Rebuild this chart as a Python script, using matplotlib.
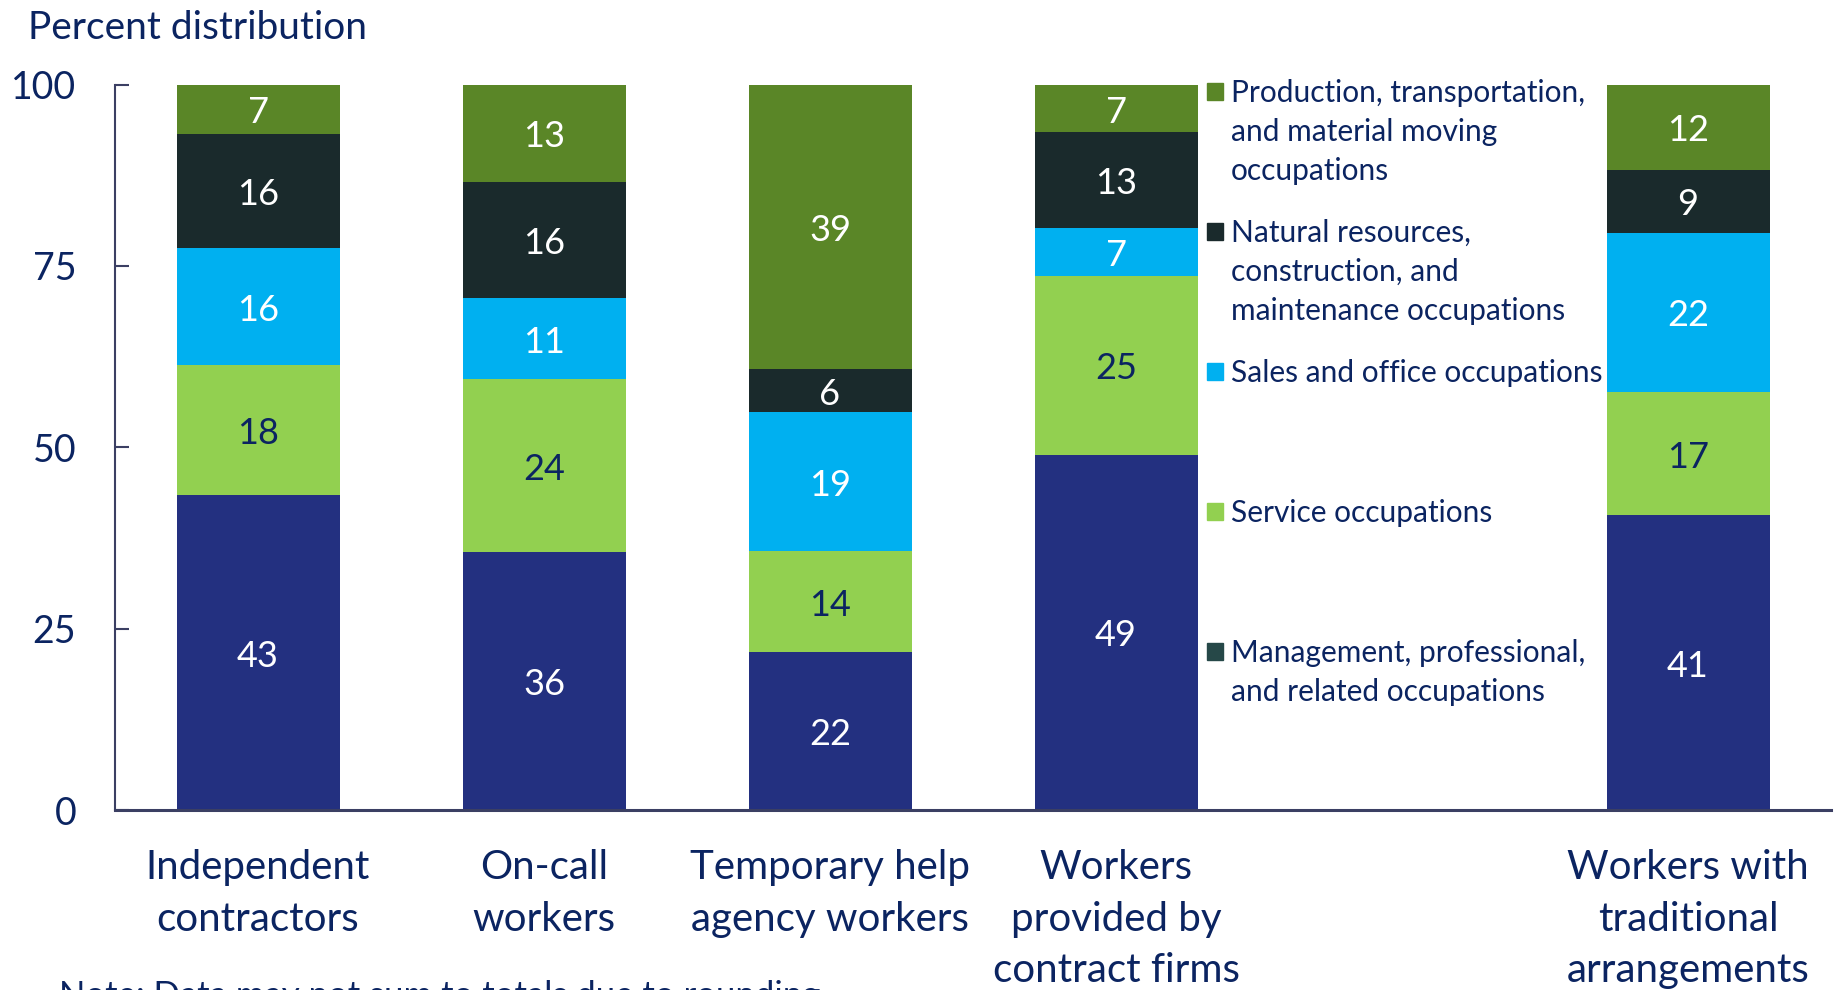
import matplotlib.pyplot as plt
from matplotlib.patches import Rectangle

plt.rcParams['font.family'] = ['Lato', 'DejaVu Sans']

categories = ["Independent\ncontractors", "On-call\nworkers", "Temporary help\nagency workers",
              "Workers\nprovided by\ncontract firms", "Workers with\ntraditional\narrangements"]
x_pos = [0, 1, 2, 3, 5]

series = ["Management, professional,\nand related occupations",
          "Service occupations",
          "Sales and office occupations",
          "Natural resources,\nconstruction, and\nmaintenance occupations",
          "Production, transportation,\nand material moving\noccupations"]
management = [43.4, 35.6, 21.8, 49.0, 40.6]
service = [17.9, 23.8, 13.9, 24.6, 17.0]
sales = [16.2, 11.2, 19.1, 6.6, 22.0]
natural = [15.7, 16.0, 6.0, 13.2, 8.6]
production = [6.8, 13.4, 39.2, 6.6, 11.8]

values = [management, service, sales, natural, production]
colors = ['#233080', '#92d050', '#00b0f0', '#1a2a2c', '#5a8627']
legend_colors = ['#264848', '#92d050', '#00b0f0', '#1a2a2c', '#5a8627']
label_colors = ['white', '#0b2461', 'white', 'white', 'white']
navy = '#0b2461'
axis_col = '#3b3f63'

fig = plt.figure(figsize=(18.41, 9.9), dpi=100)
ax = fig.add_axes([0.0625, 0.1818, 0.9321, 0.7328])

bottoms = [0.0] * len(x_pos)
for vals, col, lcol in zip(values, colors, label_colors):
    ax.bar(x_pos, vals, width=0.57, bottom=bottoms, color=col, edgecolor='none', zorder=2)
    for x, b, v in zip(x_pos, bottoms, vals):
        ax.text(x, b + v / 2 - 0.5, f"{int(v + 0.5)}", ha='center', va='center',
                fontsize=26, color=lcol, zorder=3)
    bottoms = [b + v for b, v in zip(bottoms, vals)]

ax.set_xlim(-0.5, 5.5)
ax.set_ylim(0, 100)
ax.set_yticks([0, 25, 50, 75, 100])
ax.set_xticks(x_pos)
ax.set_xticklabels(categories, fontsize=29, color=navy, linespacing=1.49)
ax.tick_params(axis='y', direction='in', length=10, width=1.5, color=axis_col,
               labelsize=27, labelcolor=navy, pad=28)
ax.tick_params(axis='x', length=0, pad=28)
for s in ['top', 'right']:
    ax.spines[s].set_visible(False)
ax.spines['left'].set_color(axis_col)
ax.spines['left'].set_linewidth(1.5)
ax.spines['bottom'].set_color(axis_col)
ax.spines['bottom'].set_linewidth(2.2)

# legend placed in the empty slot
legend_y = [99.0, 79.7, 60.4, 41.1, 21.8]
order = [4, 3, 2, 1, 0]
for y, i in zip(legend_y, order):
    ax.add_patch(Rectangle((3.318, y - 1.1), 0.055, 2.3, color=legend_colors[i],
                           transform=ax.transData, clip_on=False, zorder=3))
    ax.text(3.402, y + 1.8, series[i], ha='left', va='top', fontsize=21.5,
            color=navy, linespacing=1.49)

fig.text(0.015, 0.972, "Percent distribution", ha='left', va='center', fontsize=28, color=navy)
fig.text(0.032, 0.010, "Note: Data may not sum to totals due to rounding.", ha='left', va='top',
         fontsize=25, color=navy)

fig.savefig("out.png", dpi=100)
